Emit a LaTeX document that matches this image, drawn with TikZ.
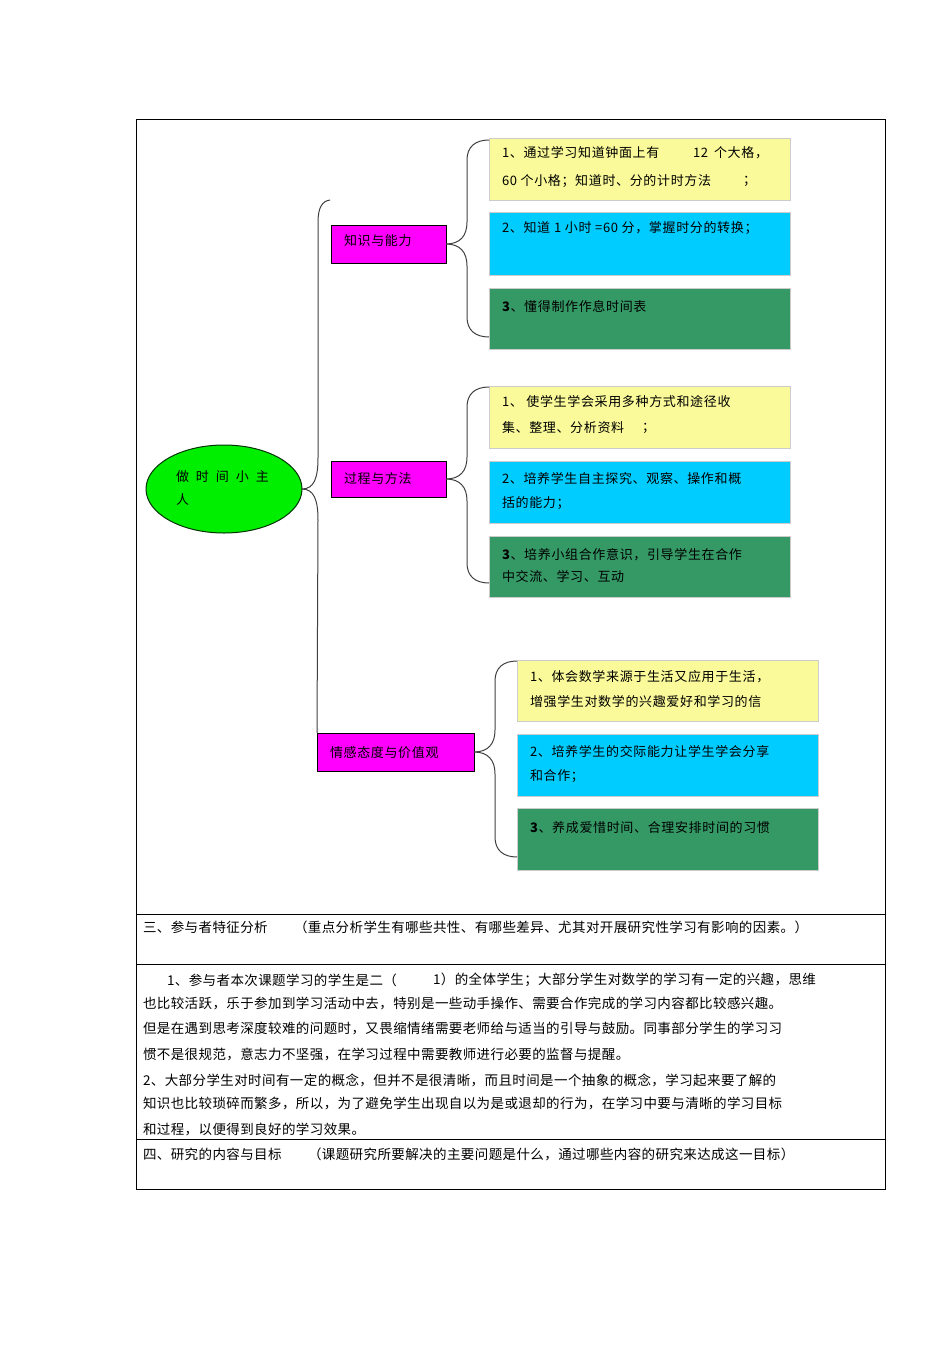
\documentclass[tikz,border=0pt]{standalone}
\usepackage{fontspec}
\usetikzlibrary{shapes.geometric}
\setmainfont{Noto Sans CJK SC}
\newfontfamily\bodyfont[LetterSpace=3]{Noto Sans CJK SC}
\newfontfamily\boxfont[LetterSpace=5]{Noto Sans CJK SC}
\definecolor{cyel}{HTML}{FAFA9A}
\definecolor{ccya}{HTML}{00CCFF}
\definecolor{cgrn}{HTML}{359966}
\definecolor{cmag}{HTML}{FF00FF}
\definecolor{cell}{HTML}{00EE00}
\begin{document}
\begin{tikzpicture}[x=1pt,y=-1pt,
  every node/.style={inner sep=0pt,outer sep=0pt},
  txt/.style={anchor=west,font=\fontsize{13}{15}\boxfont},
  btxt/.style={anchor=west,font=\fontsize{13.5}{15}\bodyfont},
  magbox/.style={draw=black,line width=1pt,fill=cmag,anchor=north west},
  subbox/.style={draw=black!20,line width=0.5pt,anchor=north west,minimum width=301pt},
  brace/.style={draw=black!75,line width=1pt},
  rule/.style={draw=black,line width=0.8pt}]
\useasboundingbox (0,0) rectangle (950,1345);
% table
\draw[rule] (136,119) rectangle (885,1189);
\coordinate (tl1) at (136,914); \coordinate (tr1) at (885,914);
\coordinate (tl2) at (136,964); \coordinate (tr2) at (885,964);
\coordinate (tl3) at (136,1139); \coordinate (tr3) at (885,1139);
\draw[rule] (tl1) -- (tr1);
\draw[rule] (tl2) -- (tr2);
\draw[rule] (tl3) -- (tr3);
% root
\node[ellipse,draw=black!80!green,line width=1pt,fill=cell,minimum width=156pt,minimum height=88pt] (root) at (224,489) {};
\node[txt] (roott1) at (176,477) {做\hspace{7pt}时\hspace{7pt}间\hspace{7pt}小\hspace{7pt}主};
\node[txt] (roott2) at (176,500) {人};
% category boxes
\node[magbox,minimum width=115pt,minimum height=38pt] (a1) at (331,225) {};
\node[txt] (a1t) at (344,241) {知识与能力};
\node[magbox,minimum width=115pt,minimum height=36pt] (a2) at (331,461) {};
\node[txt] (a2t) at (344,479) {过程与方法};
\node[magbox,minimum width=157pt,minimum height=38pt] (a3) at (317,733) {};
\node[txt] (a3t) at (330,753) {情感态度与价值观};
% main brace
\coordinate (mtop) at (330,200);
\draw[brace] (root.east) .. controls (314,489) and (318,478) .. (318,458) -- (318,222) .. controls (318,208) and (322,201) .. (mtop);
\draw[brace] (root.east) .. controls (314,489) and (318,500) .. (318,520) -- (a3.north west);
% group 1
\node[subbox,fill=cyel,minimum height=62pt] (b11) at (489,138) {};
\node[subbox,fill=ccya,minimum height=63pt] (b12) at (489,212) {};
\node[subbox,fill=cgrn,minimum height=61pt] (b13) at (489,288) {};
\node[txt] (b11t1) at (502,153) {1、通过学习知道钟面上有};
\node[txt] (b11t2) at (693,153) {12\hspace{6pt}个大格，};
\node[txt] (b11t3) at (502,181) {60 个小格；知道时、分的计时方法};
\node[txt] (b11t4) at (743,181) {；};
\node[txt] (b12t) at (502,228) {2、知道\hspace{4pt}1 小时 =60 分，掌握时分的转换；};
\node[txt] (b13t) at (502,306) {\textbf{3}、懂得制作作息时间表};
\coordinate (b1top) at (489,140); \coordinate (b1bot) at (489,337);
\draw[brace] (a1.east) .. controls (460,244) and (467,236) .. (467,222) -- (467,160) .. controls (467,147) and (475,140) .. (b1top);
\draw[brace] (a1.east) .. controls (460,244) and (467,252) .. (467,266) -- (467,317) .. controls (467,330) and (475,337) .. (b1bot);
% group 2
\node[subbox,fill=cyel,minimum height=62pt] (b21) at (489,386) {};
\node[subbox,fill=ccya,minimum height=62pt] (b22) at (489,461) {};
\node[subbox,fill=cgrn,minimum height=61pt] (b23) at (489,536) {};
\node[txt] (b21t1) at (502,402) {1、 使学生学会采用多种方式和途径收};
\node[txt] (b21t2) at (502,428) {集、整理、分析资料};
\node[txt] (b21t3) at (642,428) {；};
\node[txt] (b22t1) at (502,479) {2、培养学生自主探究、观察、操作和概};
\node[txt] (b22t2) at (502,503) {括的能力；};
\node[txt] (b23t1) at (502,555) {\textbf{3}、培养小组合作意识，引导学生在合作};
\node[txt] (b23t2) at (502,577) {中交流、学习、互动};
\coordinate (b2top) at (489,387); \coordinate (b2bot) at (489,583);
\draw[brace] (a2.east) .. controls (460,479) and (467,471) .. (467,457) -- (467,407) .. controls (467,394) and (475,387) .. (b2top);
\draw[brace] (a2.east) .. controls (460,479) and (467,487) .. (467,501) -- (467,563) .. controls (467,576) and (475,583) .. (b2bot);
% group 3
\node[subbox,fill=cyel,minimum height=61pt] (b31) at (517,660) {};
\node[subbox,fill=ccya,minimum height=62pt] (b32) at (517,734) {};
\node[subbox,fill=cgrn,minimum height=62pt] (b33) at (517,808) {};
\node[txt] (b31t1) at (530,677) {1、体会数学来源于生活又应用于生活，};
\node[txt] (b31t2) at (530,702) {增强学生对数学的兴趣爱好和学习的信};
\node[txt] (b32t1) at (530,752) {2、培养学生的交际能力让学生学会分享};
\node[txt] (b32t2) at (530,776) {和合作；};
\node[txt] (b33t) at (530,828) {\textbf{3}、养成爱惜时间、合理安排时间的习惯};
\coordinate (b3top) at (517,661); \coordinate (b3bot) at (517,857);
\draw[brace] (a3.east) .. controls (488,752) and (495,744) .. (495,730) -- (495,681) .. controls (495,668) and (503,661) .. (b3top);
\draw[brace] (a3.east) .. controls (488,752) and (495,760) .. (495,774) -- (495,837) .. controls (495,850) and (503,857) .. (b3bot);
% bottom text
\node[btxt] (s3a) at (143,927) {三、参与者特征分析};
\node[btxt] (s3b) at (294,927) {（重点分析学生有哪些共性、有哪些差异、尤其对开展研究性学习有影响的因素。）};
\node[btxt] (p1a) at (167,980) {1、参与者本次课题学习的学生是二（};
\node[btxt] (p1b) at (433,980) {1）的全体学生；大部分学生对数学的学习有一定的兴趣，思维};
\node[btxt] (p2) at (143,1003) {也比较活跃，乐于参加到学习活动中去，特别是一些动手操作、需要合作完成的学习内容都比较感兴趣。};
\node[btxt] (p3) at (143,1028) {但是在遇到思考深度较难的问题时，又畏缩情绪需要老师给与适当的引导与鼓励。同事部分学生的学习习};
\node[btxt] (p4) at (143,1054) {惯不是很规范，意志力不坚强，在学习过程中需要教师进行必要的监督与提醒。};
\node[btxt] (p5) at (143,1080) {2、大部分学生对时间有一定的概念，但并不是很清晰，而且时间是一个抽象的概念，学习起来要了解的};
\node[btxt] (p6) at (143,1103) {知识也比较琐碎而繁多，所以，为了避免学生出现自以为是或退却的行为，在学习中要与清晰的学习目标};
\node[btxt] (p7) at (143,1129) {和过程，以便得到良好的学习效果。};
\node[btxt] (s4a) at (143,1154) {四、研究的内容与目标};
\node[btxt] (s4b) at (308,1154) {（课题研究所要解决的主要问题是什么，通过哪些内容的研究来达成这一目标）};
\end{tikzpicture}
\end{document}
